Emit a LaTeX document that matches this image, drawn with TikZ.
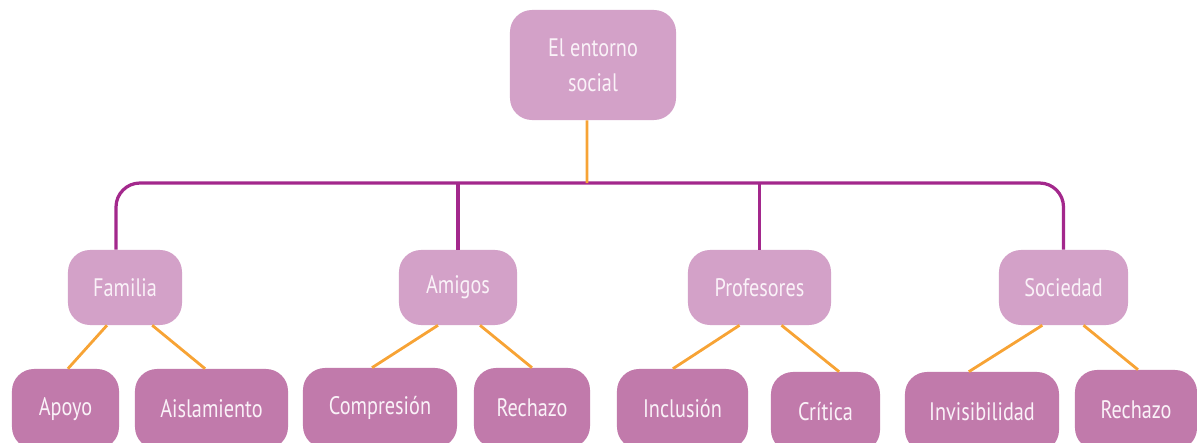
\documentclass[tikz,border=0pt]{standalone}
\usepackage{fontspec}
\setmainfont[FakeStretch=0.8]{PT Sans}
\usetikzlibrary{positioning}

\definecolor{mauvelight}{HTML}{D3A1C8}
\definecolor{mauvedark}{HTML}{C17AAB}
\definecolor{busline}{HTML}{A3288C}
\definecolor{twig}{HTML}{F7A335}
\definecolor{labeltext}{HTML}{FAF2F8}

\tikzset{
  topbox/.style={fill=mauvelight, rounded corners=0.55cm, minimum height=1.875cm,
    text=labeltext, font=\fontsize{18}{25}\selectfont, inner sep=0pt},
  leafbox/.style={fill=mauvedark, rounded corners=0.55cm, minimum height=2cm,
    text=labeltext, font=\fontsize{18}{25}\selectfont, inner sep=0pt},
  bus/.style={busline, line width=2.3pt},
  twigline/.style={twig, line width=2pt}
}

\begin{document}
\begin{tikzpicture}[x=0.025cm, y=-0.025cm]

\useasboundingbox (0,0) rectangle (1197,442);
\clip (0,0) rectangle (1197,442);

\node[topbox, minimum width=4.15cm, minimum height=2.75cm, align=center] (root) at (593,65) {El entorno\\social};

\node[topbox, minimum width=2.85cm] (fam) at (125,287.5) {Familia};
\node[topbox, minimum width=2.95cm] (ami) at (458,287.5) {Amigos};
\node[topbox, minimum width=3.575cm] (pro) at (759.5,287.5) {Profesores};
\node[topbox, minimum width=3.225cm] (soc) at (1063.5,287.5) {Sociedad};

\node[leafbox, minimum width=2.675cm] (apo) at (65.5,409) {Apoyo};
\node[leafbox, minimum width=3.825cm] (ais) at (211.5,409) {Aislamiento};
\node[leafbox, minimum width=3.85cm] (com) at (380,408) {Compresión};
\node[leafbox, minimum width=2.9cm] (rea) at (532,408) {Rechazo};
\node[leafbox, minimum width=3.275cm] (inc) at (682.5,409) {Inclusión};
\node[leafbox, minimum width=2.725cm] (cri) at (825.5,412) {Crítica};
\node[leafbox, minimum width=3.85cm] (inv) at (982,412) {Invisibilidad};
\node[leafbox, minimum width=3.05cm] (reb) at (1136,410) {Rechazo};

\coordinate (bar) at (587,183);

% purple bus
\draw[bus, rounded corners=0.6cm] ([xshift=-0.225cm]fam.north) |- (bar) -| (soc.north);
\draw[bus] (ami.north) -- (ami.north |- bar);
\draw[bus] (pro.north) -- (pro.north |- bar);
\draw[twigline] ([xshift=-0.15cm]root.south) -- (bar);

% orange twigs
\draw[twigline] ([xshift=-0.45cm]fam.south) -- ([xshift=0.06cm]apo.north);
\draw[twigline] ([xshift=0.68cm]fam.south) -- ([xshift=-0.16cm]ais.north);
\draw[twigline] ([xshift=-0.5cm]ami.south) -- ([xshift=-0.2cm]com.north);
\draw[twigline] ([xshift=0.55cm]ami.south) -- (rea.north);
\draw[twigline] ([xshift=-0.5cm]pro.south) -- ([xshift=-0.24cm]inc.north);
\draw[twigline] ([xshift=0.55cm]pro.south) -- ([xshift=0.34cm]cri.north);
\draw[twigline] ([xshift=-0.53cm]soc.south) -- ([xshift=-0.33cm]inv.north);
\draw[twigline] ([xshift=0.5cm]soc.south) -- ([xshift=0.05cm]reb.north);

\end{tikzpicture}
\end{document}
